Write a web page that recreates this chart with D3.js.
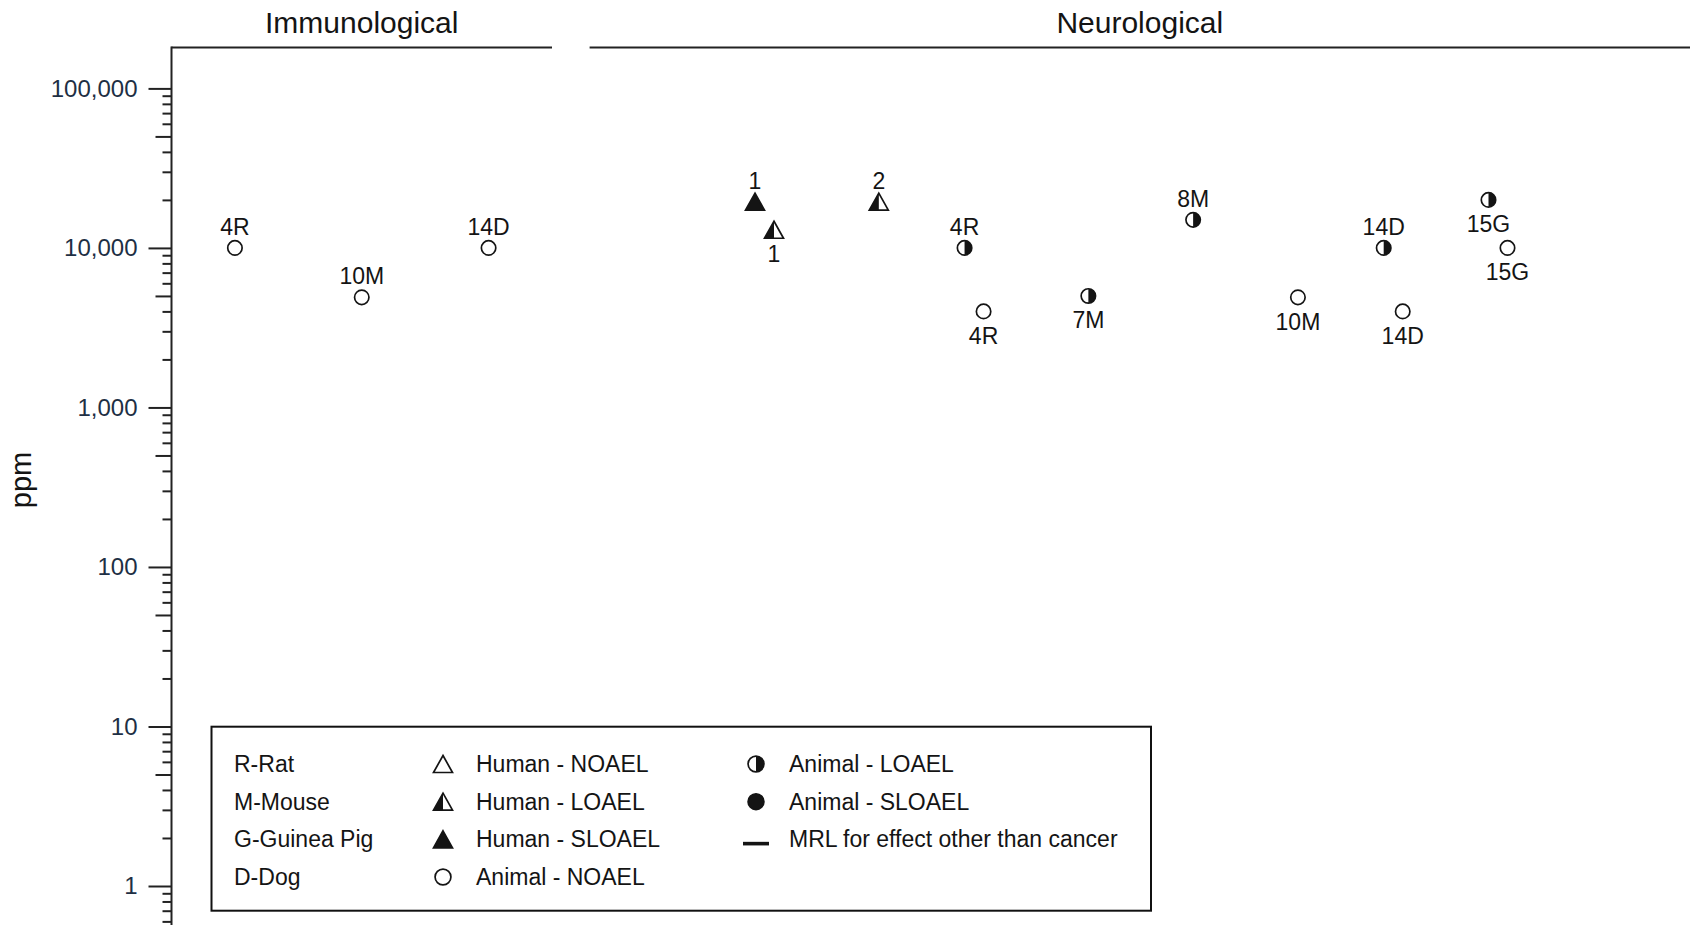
<!DOCTYPE html>
<html>
<head>
<meta charset="utf-8">
<script src="https://cdn.jsdelivr.net/npm/d3@7"></script>
<style>
  html, body { margin: 0; padding: 0; background: #fff; }
  svg { display: block; font-family: Arial, "Liberation Sans", sans-serif; }
</style>
</head>
<body>
<svg id="chart" width="1690" height="925"></svg>
<script>
// ---------------- DATA ----------------
const panelTitles = ["Immunological", "Neurological"];
const panelColumnCounts = [3, 8];

const tickValues = [1, 10, 100, 1000, 10000, 100000];
const tickLabels = ["1", "10", "100", "1,000", "10,000", "100,000"];
const yAxisTitle = "ppm";

// points
const pointPanel   = [0, 0, 0, 1, 1, 1, 1, 1, 1, 1, 1, 1, 1, 1, 1];
const pointColumn  = [0, 1, 2, 0, 0, 1, 2, 2, 3, 4, 5, 6, 6, 7, 7];
const pointSlot    = [0, 0, 0, -1, 1, 1, -1, 1, 1, 1, 1, -1, 1, -1, 1];
const pointLabels  = ["4R", "10M", "14D", "1", "1", "2", "4R", "4R", "7M", "8M", "10M", "14D", "14D", "15G", "15G"];
const pointValues  = [10000, 4900, 10000, 19500, 13000, 19500, 10000, 4000, 5000, 15000, 4900, 10000, 4000, 20000, 10000];
const pointTypes   = ["aNOAEL", "aNOAEL", "aNOAEL", "hSLOAEL", "hLOAEL", "hLOAEL", "aLOAEL", "aNOAEL",
                      "aLOAEL", "aLOAEL", "aNOAEL", "aLOAEL", "aNOAEL", "aLOAEL", "aNOAEL"];
const pointLabelSide = ["above", "above", "above", "above", "below", "above", "above", "below",
                        "below", "above", "below", "above", "below", "below", "below"];

// legend
const speciesLegend = ["R-Rat", "M-Mouse", "G-Guinea Pig", "D-Dog"];
const symbolLegendTypes  = ["hNOAEL", "hLOAEL", "hSLOAEL", "aNOAEL"];
const symbolLegendLabels = ["Human - NOAEL", "Human - LOAEL", "Human - SLOAEL", "Animal - NOAEL"];
const symbolLegend2Types  = ["aLOAEL", "aSLOAEL", "MRL"];
const symbolLegend2Labels = ["Animal - LOAEL", "Animal - SLOAEL", "MRL for effect other than cancer"];

// ---------------- LAYOUT ----------------
const W = 1690, H = 925;
const axisX = 171.5;
const topLineY = 47.5;
const ink = "#141414";
const tickInk = "#1e2f44";

const svg = d3.select("#chart");

const y = d3.scaleLog().domain([1, 100000]).range([886, 88.4]);

const panelRanges = [[axisX, 552], [589.6, 1690]];
const xScales = [
  d3.scalePoint().domain(d3.range(panelColumnCounts[0])).range(panelRanges[0]).padding(0.5),
  d3.scalePoint().domain(d3.range(panelColumnCounts[1])).range([764.5, 1498])
];
const slotOffset = 9.5;

// ---------------- PANEL LINES & TITLES ----------------
panelRanges.forEach((r, i) => {
  svg.append("line")
    .attr("x1", r[0]).attr("x2", r[1])
    .attr("y1", topLineY).attr("y2", topLineY)
    .attr("stroke", "#222").attr("stroke-width", 2);
  svg.append("text")
    .attr("x", (r[0] + r[1]) / 2).attr("y", 33.3)
    .attr("text-anchor", "middle")
    .attr("font-size", 30)
    .attr("fill", ink)
    .text(panelTitles[i]);
});

// ---------------- Y AXIS ----------------
svg.append("line")
  .attr("x1", axisX).attr("x2", axisX)
  .attr("y1", topLineY - 1).attr("y2", H)
  .attr("stroke", "#222").attr("stroke-width", 2);

// minor ticks
const minorTicks = [];
[0.1, 1, 10, 100, 1000, 10000].forEach(dec => {
  for (let m = 2; m <= 9; m++) minorTicks.push(dec * m);
});
const minorVisible = minorTicks.filter(v => y(v) <= H && y(v) >= y(100000));

const minorAxis = d3.axisLeft(y).tickValues(minorVisible).tickFormat("").tickSizeOuter(0);
const gMinor = svg.append("g").attr("transform", `translate(${axisX},0)`).call(minorAxis);
gMinor.select(".domain").remove();
gMinor.selectAll(".tick line")
  .attr("x2", d => {
    const m = Math.round(d / Math.pow(10, Math.floor(Math.log10(d) + 1e-9)));
    return m === 5 ? -16 : -9;
  })
  .attr("stroke", "#222").attr("stroke-width", 2);

const majorAxis = d3.axisLeft(y).tickValues(tickValues)
  .tickFormat((d, i) => tickLabels[i]).tickSize(23).tickPadding(11).tickSizeOuter(0);
const gMajor = svg.append("g").attr("transform", `translate(${axisX},0)`).call(majorAxis);
gMajor.select(".domain").remove();
gMajor.selectAll(".tick line").attr("stroke", "#222").attr("stroke-width", 2);
gMajor.selectAll(".tick text")
  .attr("font-size", 24)
  .attr("font-family", "Arial, 'Liberation Sans', sans-serif")
  .attr("fill", tickInk);

svg.append("text")
  .attr("transform", `translate(31,480) rotate(-90)`)
  .attr("text-anchor", "middle")
  .attr("font-size", 29)
  .attr("fill", ink)
  .text(yAxisTitle);

// ---------------- MARKERS ----------------
function drawMarker(g, type, scale) {
  const s = scale || 1;
  const sw = 1.7;
  if (type[0] === "a") {
    const r = 7.2 * s;
    if (type === "aNOAEL") {
      g.append("circle").attr("r", r).attr("fill", "#fff").attr("stroke", ink).attr("stroke-width", sw);
    } else if (type === "aLOAEL") {
      g.append("circle").attr("r", r).attr("fill", "#fff");
      g.append("path").attr("d", `M0,${-r}A${r},${r} 0 0 1 0,${r}Z`).attr("fill", ink);
      g.append("circle").attr("r", r).attr("fill", "none").attr("stroke", ink).attr("stroke-width", sw);
    } else {
      g.append("circle").attr("r", r).attr("fill", ink).attr("stroke", ink).attr("stroke-width", sw);
    }
  } else if (type[0] === "h") {
    const hw = 9.5 * s, hh = 8.5 * s;
    const tri = `M0,${-hh}L${hw},${hh}L${-hw},${hh}Z`;
    if (type === "hNOAEL") {
      g.append("path").attr("d", tri).attr("fill", "#fff").attr("stroke", ink).attr("stroke-width", sw).attr("stroke-linejoin", "miter");
    } else if (type === "hLOAEL") {
      g.append("path").attr("d", tri).attr("fill", "#fff");
      g.append("path").attr("d", `M0,${-hh}L0,${hh}L${-hw},${hh}Z`).attr("fill", ink);
      g.append("path").attr("d", tri).attr("fill", "none").attr("stroke", ink).attr("stroke-width", sw);
    } else {
      g.append("path").attr("d", tri).attr("fill", ink).attr("stroke", ink).attr("stroke-width", sw);
    }
  } else if (type === "MRL") {
    g.append("rect").attr("x", -13).attr("y", 2.5).attr("width", 26).attr("height", 3.6).attr("fill", ink);
  }
}

// ---------------- POINTS ----------------
pointValues.forEach((v, i) => {
  const xs = xScales[pointPanel[i]];
  const px = xs(pointColumn[i]) + pointSlot[i] * slotOffset;
  const py = y(v);
  const g = svg.append("g").attr("transform", `translate(${px},${py})`);
  drawMarker(g, pointTypes[i], 1);
  const above = pointLabelSide[i] === "above";
  svg.append("text")
    .attr("x", px)
    .attr("y", py + (above ? -21 : 24.5))
    .attr("dy", "0.35em")
    .attr("text-anchor", "middle")
    .attr("font-size", 23)
    .attr("fill", ink)
    .text(pointLabels[i]);
});

// ---------------- LEGEND ----------------
const lg = { x: 211.5, y: 726.7, w: 939.5, h: 184 };
svg.append("rect")
  .attr("x", lg.x).attr("y", lg.y).attr("width", lg.w).attr("height", lg.h)
  .attr("fill", "#fff").attr("stroke", "#111").attr("stroke-width", 2);

const rowY = d3.scalePoint().domain(d3.range(4)).range([764, 877]);

speciesLegend.forEach((t, i) => {
  svg.append("text").attr("x", 234).attr("y", rowY(i)).attr("dy", "0.35em")
    .attr("font-size", 23).attr("fill", ink).text(t);
});
symbolLegendTypes.forEach((t, i) => {
  const g = svg.append("g").attr("transform", `translate(443,${rowY(i)})`);
  drawMarker(g, t, t[0] === "a" ? 1.1 : 1.0);
  svg.append("text").attr("x", 476).attr("y", rowY(i)).attr("dy", "0.35em")
    .attr("font-size", 23).attr("fill", ink).text(symbolLegendLabels[i]);
});
symbolLegend2Types.forEach((t, i) => {
  const g = svg.append("g").attr("transform", `translate(756,${rowY(i)})`);
  drawMarker(g, t, 1.1);
  svg.append("text").attr("x", 789).attr("y", rowY(i)).attr("dy", "0.35em")
    .attr("font-size", 23).attr("fill", ink).text(symbolLegend2Labels[i]);
});
</script>
</body>
</html>
